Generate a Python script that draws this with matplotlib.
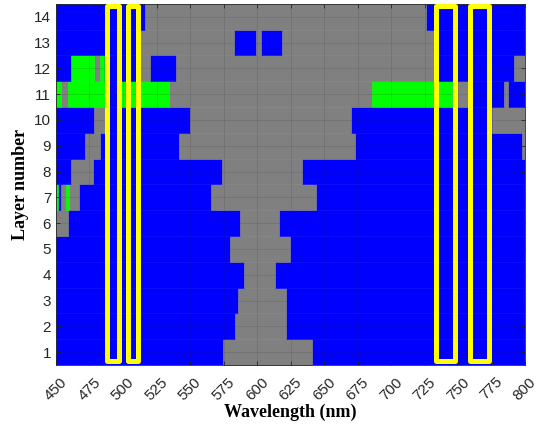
import matplotlib
matplotlib.use("Agg")
import matplotlib.pyplot as plt
from matplotlib.patches import Rectangle

# layer numbers (bottom to top) and, for each layer, the wavelength breakpoints (nm)
# plus one letter per segment: b = blue, k = grey, g = green
layers = list(range(1, 15))
row_edges = [
    [450, 574.5, 641, 800],
    [450, 583.5, 622, 800],
    [450, 586, 622, 800],
    [450, 590, 613.5, 800],
    [450, 580, 624.5, 800],
    [450, 459, 587, 616.5, 800],
    [450, 451.5, 453.5, 457.5, 460, 467.5, 565.5, 644, 800],
    [450, 461.5, 477.5, 574, 633.5, 800],
    [450, 471.5, 482.5, 542, 673, 797.5, 800],
    [450, 478, 486.5, 550, 670, 775, 800],
    [450, 454, 459, 488, 497, 534, 685.5, 745.5, 757.5, 784, 787, 800],
    [450, 461.5, 478, 482.5, 485.5, 512.5, 520.5, 539.5, 733, 792, 800],
    [450, 512.5, 583, 599, 603, 619, 733, 800],
    [450, 516.5, 726, 800],
]
row_kinds = [
    "bkb",
    "bkb",
    "bkb",
    "bkb",
    "bkb",
    "kbkb",
    "gbkgkbkb",
    "bkbkb",
    "bkbkbk",
    "bkbkbk",
    "gkgbgkgkbkb",
    "bgkgbkbkbk",
    "bkbkbkb",
    "bkb",
]

# highlighted wavelength bands (yellow boxes)
box_lo = [488, 503.5, 733.5, 759]
box_hi = [497, 511, 747.5, 773]
box_bottom, box_top = 0.65, 14.42

x_ticks = list(range(450, 801, 25))
colours = {"b": (0, 0, 1), "k": (0.5, 0.5, 0.5), "g": (0, 1, 0)}

fig = plt.figure(figsize=(5.41, 4.24), dpi=100)
ax = fig.add_axes([0.1035, 0.139, 0.867, 0.852])

for layer, edges, kinds in zip(layers, row_edges, row_kinds):
    for c in colours:
        segs = [(edges[i], edges[i + 1] - edges[i]) for i, k in enumerate(kinds) if k == c]
        if segs:
            ax.broken_barh(segs, (layer - 0.5, 1), facecolors=colours[c],
                           edgecolor=colours[c], linewidth=0.4, zorder=1)

for lo, hi in zip(box_lo, box_hi):
    ax.add_patch(Rectangle((lo, box_bottom), hi - lo, box_top - box_bottom,
                           fill=False, edgecolor=(1, 1, 0), linewidth=3.6,
                           joinstyle="round", zorder=3))

ax.set_xlim(450, 800)
ax.set_ylim(0.5, 14.5)
ax.set_xticks(x_ticks)
ax.set_yticks(layers)
ax.grid(True, color="#262626", alpha=0.15, linewidth=0.6)
ax.set_axisbelow(False)
ax.tick_params(direction="in", top=True, right=True, length=3, width=0.6,
               color="#262626", labelcolor="#262626")
ax.tick_params(axis="x", pad=7)
for lab in ax.get_xticklabels():
    lab.set_rotation(45)
    lab.set_ha("center")
    lab.set_fontfamily("Liberation Sans")
    lab.set_fontsize(11)
for lab in ax.get_yticklabels():
    lab.set_fontfamily("Liberation Sans")
    lab.set_fontsize(11)
for s in ax.spines.values():
    s.set_color("#262626")
    s.set_linewidth(0.6)

ax.set_xlabel("Wavelength (nm)", fontfamily="Liberation Serif", fontweight="bold",
              fontsize=13, labelpad=1)
ax.set_ylabel("Layer number", fontfamily="Liberation Serif", fontweight="bold",
              fontsize=13, labelpad=4)

fig.savefig("out.png", dpi=100)
